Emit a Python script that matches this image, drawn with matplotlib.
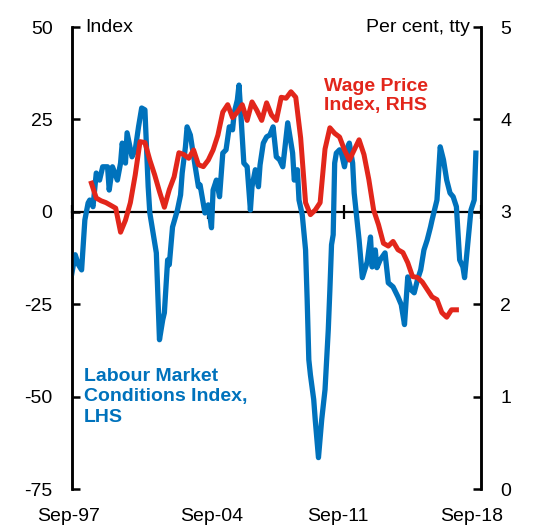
import matplotlib.pyplot as plt
import matplotlib.transforms as mtransforms
import pandas as pd

# Labour Market Conditions Index (LHS), monthly; months counted from Sep-97
lmci_months = [0, 2, 4, 6, 8, 10, 11, 13, 15, 17, 19, 22, 23, 25, 28, 30, 31, 33, 34, 37,
               39, 41, 43, 45, 46, 47, 48, 50, 52, 54, 56, 57, 59, 60, 62, 65, 67, 68, 70, 71,
               73, 76, 78, 79, 82, 84, 86, 87, 89, 91, 93, 95, 97, 99, 100, 102, 103, 104, 106, 108,
               110, 111, 113, 115, 116, 118, 120, 122, 124, 126, 128, 130, 132, 133, 136, 137, 139, 140, 142, 144,
               145, 146, 147, 149, 150, 151, 152, 154, 156, 158, 159, 160, 161, 162, 163, 165, 166, 168, 170, 171,
               173, 174, 176, 177, 179, 182, 184, 185, 187, 188, 190, 193, 195, 198, 201, 203, 205, 207, 209, 211,
               213, 215, 217, 219, 221, 222, 225, 227, 229, 231, 233, 235, 237, 239, 241, 242, 244, 246, 248, 249]
lmci_vals = [-16.5, -11.6, -14.3, -15.7, -2.2, 2.4, 3.2, 1.4, 10.5, 8.6, 12.2, 12.2, 5.9, 12.2, 8.6, 13.2, 18.6, 13.2, 21.4, 14.9,
             16.8, 23.0, 28.1, 27.6, 17.6, 6.8, -0.3, -5.7, -11.1, -34.6, -29.2, -27.3, -13.0, -14.3, -4.1, 0.5, 4.6, 10.5, 17.6, 23.0,
             20.8, 12.2, 6.8, 7.3, -0.3, 1.9, -4.3, 5.9, 8.6, 4.1, 15.9, 16.8, 23.0, 22.2, 26.8, 30.3, 34.3, 27.6, 13.2, 12.2,
             0.5, 6.8, 11.4, 6.8, 12.7, 18.6, 20.3, 20.8, 23.0, 14.9, 14.1, 12.2, 20.3, 24.1, 15.9, 8.6, 11.4, 3.2, -0.8, -10.3,
             -23.8, -40.0, -44.1, -50.8, -56.2, -61.6, -66.5, -56.2, -48.1, -31.9, -21.1, -8.9, -6.2, 13.2, 15.9, 16.8, 16.2, 12.2, 17.6, 18.6,
             13.2, 5.1, -3.5, -7.6, -17.8, -13.5, -6.8, -14.9, -10.3, -15.1, -13.0, -11.1, -19.2, -20.3, -23.0, -25.1, -30.5, -17.6, -21.1, -21.9,
             -18.4, -15.7, -10.3, -7.6, -4.1, -2.2, 3.2, 17.6, 14.1, 8.6, 5.1, 4.1, 1.4, -13.0, -14.9, -17.8, -8.4, 0.5, 3.2, 15.9]

# Wage Price Index (RHS), quarterly from Sep-98, per cent year-ended
wpi_vals = [3.31, 3.15, 3.12, 3.10, 3.07, 3.04, 2.78, 2.91, 3.10, 3.40,
            3.76, 3.75, 3.56, 3.40, 3.22, 3.05, 3.24, 3.38, 3.64, 3.62,
            3.58, 3.67, 3.51, 3.49, 3.56, 3.67, 3.83, 4.08, 4.16, 4.02,
            4.08, 4.16, 3.99, 4.19, 4.10, 3.99, 4.18, 4.05, 3.99, 4.24,
            4.23, 4.30, 4.24, 3.80, 3.10, 2.97, 3.02, 3.10, 3.68, 3.91,
            3.85, 3.81, 3.67, 3.56, 3.67, 3.78, 3.62, 3.35, 3.02, 2.86,
            2.66, 2.63, 2.68, 2.59, 2.56, 2.45, 2.30, 2.29, 2.24, 2.16,
            2.08, 2.05, 1.91, 1.86, 1.94, 1.94]

xtick_dates = ['1997-09-01', '2004-09-01', '2011-09-01', '2018-09-01']
xtick_labels = ['Sep-97', 'Sep-04', 'Sep-11', 'Sep-18']

BLUE = '#0072bc'
RED = '#e2261b'

plt.rcParams['font.family'] = ['Liberation Sans', 'DejaVu Sans']
plt.rcParams['axes.unicode_minus'] = False

all_months = pd.date_range('1997-09-01', periods=260, freq='MS')
lmci_dates = all_months[lmci_months]
wpi_dates = pd.date_range('1998-09-01', periods=len(wpi_vals), freq='3MS')

fig = plt.figure(figsize=(5.33, 5.31), dpi=100)
ax = fig.add_axes([0.135, 0.079, 0.767, 0.870])
ax2 = ax.twinx()

ax.plot(lmci_dates, lmci_vals, color=BLUE, lw=3.8, solid_joinstyle='round', zorder=3)
ax2.plot(wpi_dates, wpi_vals, color=RED, lw=3.6, solid_joinstyle='round', zorder=3)

ax.set_ylim(-75, 50)
ax.set_yticks([-75, -50, -25, 0, 25, 50])
ax2.set_ylim(0, 5)
ax2.set_yticks([0, 1, 2, 3, 4, 5])
ax.set_xlim(pd.Timestamp('1997-09-01'), pd.Timestamp('2018-09-01'))

# zero line with ticks on it
ax.spines['bottom'].set_position(('data', 0))
ax.spines['bottom'].set_linewidth(1.6)
ax.spines['top'].set_visible(False)
ax.set_xticks(pd.to_datetime(xtick_dates))
ax.tick_params(axis='x', direction='inout', length=10, width=1.6, labelbottom=False)

# tick labels at the bottom from the twin axis
ax2.xaxis.set_visible(True)
ax2.set_xticks(pd.to_datetime(xtick_dates))
ax2.set_xticklabels(xtick_labels)
ax2.tick_params(axis='x', length=0, labelsize=14, pad=14)
for side in ['top', 'bottom']:
    ax2.spines[side].set_visible(False)
# the original's labels sit slightly off their ticks
for lbl, dx in zip(ax2.get_xticklabels(), [-3, 3, -7, -9]):
    lbl.set_transform(lbl.get_transform() + mtransforms.ScaledTranslation(dx / 100, 0, fig.dpi_scale_trans))

for a in (ax, ax2):
    a.spines['left'].set_linewidth(1.8)
    a.spines['right'].set_linewidth(1.8)
ax.tick_params(axis='y', direction='in', length=6, width=1.8, labelsize=14, pad=14)
ax2.tick_params(axis='y', direction='in', length=6, width=1.8, labelsize=14, pad=14)

ax.text(0.032, 1.0, 'Index', transform=ax.transAxes, ha='left', va='center', fontsize=14)
ax.text(0.973, 1.0, 'Per cent, tty', transform=ax.transAxes, ha='right', va='center', fontsize=14)
ax.text(0.617, 0.89, 'Wage Price\nIndex, RHS', transform=ax.transAxes, ha='left', va='top',
        fontsize=14, fontweight='bold', color=RED, linespacing=1.2)
ax.text(0.030, 0.262, 'Labour Market\nConditions Index,\nLHS', transform=ax.transAxes, ha='left', va='top',
        fontsize=14, fontweight='bold', color=BLUE, linespacing=1.25)

fig.savefig('out.png', dpi=100)
